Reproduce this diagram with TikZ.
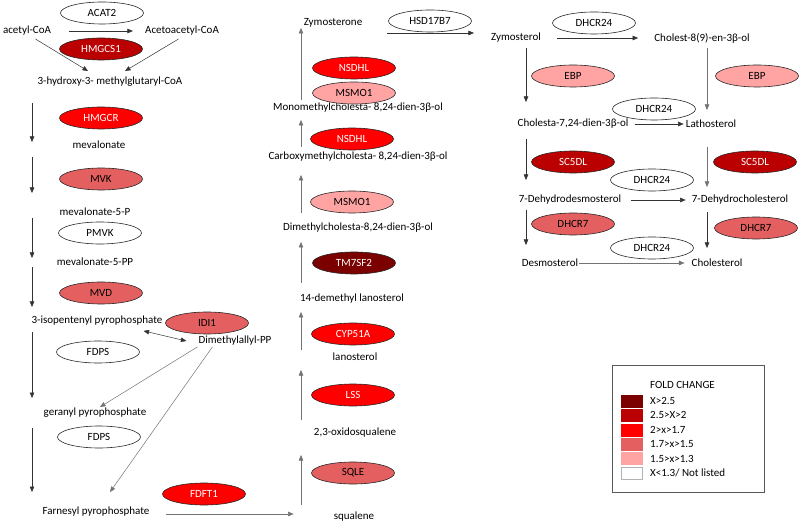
\documentclass[tikz,border=0pt]{standalone}
\usepackage{fontspec}
\setmainfont{Carlito}
\usetikzlibrary{shapes.geometric, arrows.meta}

\definecolor{fcmaroon}{HTML}{7B0000}
\definecolor{fcdark}{HTML}{BA0000}
\definecolor{fcred}{HTML}{FF0000}
\definecolor{fcsalmon}{HTML}{E46060}
\definecolor{fcpink}{HTML}{FFA3A3}

\begin{document}
\begin{tikzpicture}[
    x=1pt, y=-1pt,
    font=\fontsize{11}{13}\selectfont,
    metab/.style={inner sep=1pt},
    enz/.style={ellipse, draw=black!85, line width=0.6pt, minimum width=83pt,
      minimum height=22pt, inner sep=0pt, fill=white},
    enzhi/.style={enz, text=white},
    arr/.style={-{Triangle[length=5.5pt,width=4.5pt]}, draw=black!80, line width=0.5pt},
    arrgray/.style={arr, draw=black!55}
  ]
  \useasboundingbox (0,0) rectangle (800,526);

  % mevalonate part
  \node[metab] (acetyl) at (27,31) {acetyl-CoA};
  \node[metab] (acetoacetyl) at (182,31) {Acetoacetyl-CoA};
  \node[enz] (acat2) at (102,13) {ACAT2};
  \node[enzhi, fill=fcdark] (hmgcs1) at (101,49) {HMGCS1};
  \node[metab] (hmgcoa) at (110,82) {3-hydroxy-3- methylglutaryl-CoA};
  \node[enzhi, fill=fcred] (hmgcr) at (101,118) {HMGCR};
  \node[metab] (mevalonate) at (99,145) {mevalonate};
  \node[enz, fill=fcsalmon] (mvk) at (101,179) {MVK};
  \node[metab] (mev5p) at (95,212) {mevalonate-5-P};
  \node[enz] (pmvk) at (100,233) {PMVK};
  \node[metab] (mev5pp) at (95,262) {mevalonate-5-PP};
  \node[enz, fill=fcsalmon] (mvd) at (101,293) {MVD};
  \node[metab] (ipp) at (97,321) {3-isopentenyl pyrophosphate};
  \node[enz, fill=fcsalmon] (idi1) at (207,323) {IDI1};
  \node[metab] (dimethyl) at (235,341) {Dimethylallyl-PP};
  \node[enz] (fdps1) at (98,352) {FDPS};
  \node[metab] (gpp) at (95,413) {geranyl pyrophosphate};
  \node[enz] (fdps2) at (99,437) {FDPS};
  \node[metab] (fpp) at (96,512) {Farnesyl pyrophosphate};
  \node[enzhi, fill=fcred] (fdft1) at (204,494) {FDFT1};

  % squalene to zymosterone
  \node[metab] (squalene) at (354,517) {squalene};
  \node[enz, fill=fcsalmon] (sqle) at (353,473) {SQLE};
  \node[metab] (oxido) at (355,433) {2,3-oxidosqualene};
  \node[enzhi, fill=fcred] (lss) at (353,395) {LSS};
  \node[metab] (lanosterol) at (355,357) {lanosterol};
  \node[enzhi, fill=fcred] (cyp51a) at (353,334) {CYP51A};
  \node[metab] (demethyl) at (352,299) {14-demethyl lanosterol};
  \node[enzhi, fill=fcmaroon] (tm7sf2) at (354,263) {TM7SF2};
  \node[metab] (dimethylchol) at (358,228) {Dimethylcholesta-8,24-dien-3β-ol};
  \node[enz, fill=fcpink] (msmo1b) at (352,202) {MSMO1};
  \node[metab] (carboxy) at (358,157) {Carboxymethylcholesta- 8,24-dien-3β-ol};
  \node[enzhi, fill=fcred] (nsdhlb) at (352,139) {NSDHL};
  \node[metab] (monomethyl) at (358,108) {Monomethylcholesta- 8,24-dien-3β-ol};
  \node[enz, fill=fcpink] (msmo1a) at (354,93) {MSMO1};
  \node[enzhi, fill=fcred] (nsdhla) at (354,68) {NSDHL};
  \node[metab] (zymosterone) at (333,23) {Zymosterone};
  \node[enz] (hsd17b7) at (430,21) {HSD17B7};

  % zymosterol to cholesterol
  \node[metab] (zymosterol) at (516,38) {Zymosterol};
  \node[enz] (dhcr24a) at (594,23) {DHCR24};
  \node[metab] (cholest8) at (702,38) {Cholest-8(9)-en-3β-ol};
  \node[enz, fill=fcpink] (ebpa) at (573,76) {EBP};
  \node[enz, fill=fcpink] (ebpb) at (757,76) {EBP};
  \node[metab] (cholesta) at (573,124) {Cholesta-7,24-dien-3β-ol};
  \node[enz] (dhcr24b) at (654,109) {DHCR24};
  \node[metab] (lathosterol) at (711,124) {Lathosterol};
  \node[enzhi, fill=fcdark] (sc5dla) at (573,162) {SC5DL};
  \node[enzhi, fill=fcdark] (sc5dlb) at (755,162) {SC5DL};
  \node[enz] (dhcr24c) at (652,180) {DHCR24};
  \node[metab] (dehydrodesmo) at (570,200) {7-Dehydrodesmosterol};
  \node[metab] (dehydrochol) at (740,200) {7-Dehydrocholesterol};
  \node[enz, fill=fcsalmon] (dhcr7a) at (573,224) {DHCR7};
  \node[enz, fill=fcsalmon] (dhcr7b) at (756,228) {DHCR7};
  \node[enz] (dhcr24d) at (652,248) {DHCR24};
  \node[metab] (desmosterol) at (550,263) {Desmosterol};
  \node[metab] (cholesterol) at (717,263) {Cholesterol};

  % columns of the vertical arrows
  \coordinate (colA) at (32,0);
  \coordinate (colB) at (301,0);
  \coordinate (colC) at (526,0);
  \coordinate (colD) at (707,0);

  % arrows, left part
  \draw[arr, shorten <=17pt, shorten >=11pt] (acetyl.east) -- (acetoacetyl.west);
  \draw[arr, shorten <=4pt] ([xshift=5pt]acetyl.south) -- ([xshift=-22pt,yshift=5pt]hmgcoa.north);
  \draw[arr, shorten <=4pt] (acetoacetyl.south) -- ([xshift=15pt,yshift=5pt]hmgcoa.north);
  \draw[arr, shorten <=21pt, shorten >=3pt] (hmgcoa -| colA) -- (mevalonate -| colA);
  \draw[arr, shorten <=12pt, shorten >=19pt] (mevalonate -| colA) -- (mev5p -| colA);
  \draw[arr, shorten <=6pt, shorten >=4pt] (mev5p -| colA) -- (mev5pp -| colA);
  \draw[arr, shorten <=5pt, shorten >=14pt] (mev5pp -| colA) -- (ipp -| colA);
  \draw[arr, shorten <=11pt, shorten >=15pt] (ipp -| colA) -- (gpp -| colA);
  \draw[arr, shorten <=15pt, shorten >=20pt] (gpp -| colA) -- (fpp -| colA);
  \draw[arr, {Triangle[length=5.5pt,width=4.5pt]}-{Triangle[length=5.5pt,width=4.5pt]}]
    ([xshift=-20pt,yshift=-4pt]ipp.south east) -- ([xshift=-11pt]dimethyl.west);
  \draw[arrgray] (dimethyl.south west) -- ([xshift=5pt]gpp.north);
  \draw[arrgray] ([xshift=15pt]dimethyl.south west) -- ([xshift=14pt,yshift=14pt]fpp.north);
  \draw[arrgray, shorten <=15pt, shorten >=39pt] ([yshift=-2pt]fpp.east) -- ([yshift=3pt]squalene.west);

  % arrows, middle part
  \draw[arrgray, shorten <=12pt, shorten >=22pt] (squalene -| colB) -- (oxido -| colB);
  \draw[arrgray, shorten <=13pt, shorten >=13pt] (oxido -| colB) -- (lanosterol -| colB);
  \draw[arrgray, shorten <=7pt, shorten >=13pt] (lanosterol -| colB) -- (demethyl -| colB);
  \draw[arrgray, shorten <=16pt, shorten >=14pt] (demethyl -| colB) -- (dimethylchol -| colB);
  \draw[arrgray, shorten <=15pt, shorten >=18pt] (dimethylchol -| colB) -- (carboxy -| colB);
  \draw[arrgray, shorten <=10pt, shorten >=12pt] (carboxy -| colB) -- (monomethyl -| colB);
  \draw[arrgray, shorten <=8pt, shorten >=5pt] (monomethyl -| colB) -- (zymosterone -| colB);
  \draw[arr, shorten <=24pt, shorten >=16pt] ([yshift=-10pt]zymosterone.east) -- ([yshift=5pt]zymosterol.west);

  % arrows, right part
  \draw[arr, shorten <=15pt, shorten >=15pt] (zymosterol.east) -- (cholest8.west);
  \draw[arr, shorten <=10pt, shorten >=22pt] (zymosterol -| colC) -- (cholesta -| colC);
  \draw[arr, shorten <=15pt, shorten >=20pt] (cholesta -| colC) -- (dehydrodesmo -| colC);
  \draw[arr, shorten <=10pt, shorten >=18pt] (dehydrodesmo -| colC) -- (desmosterol -| colC);
  \draw[arrgray, shorten <=10pt, shorten >=14pt] (cholest8 -| colD) -- (lathosterol -| colD);
  \draw[arrgray, shorten <=23pt, shorten >=13pt] (lathosterol -| colD) -- (dehydrochol -| colD);
  \draw[arr, shorten <=12pt, shorten >=15pt] (dehydrochol -| colD) -- (cholesterol -| colD);
  \draw[arr, shorten <=5pt, shorten >=1pt] (cholesta.east) -- (lathosterol.west);
  \draw[arr, shorten <=9pt, shorten >=5pt] (dehydrodesmo.east) -- (dehydrochol.west);
  \draw[arrgray, shorten >=6pt] (desmosterol.east) -- (cholesterol.west);

  % legend
  \node[draw=black!65, line width=0.8pt, minimum width=152pt, minimum height=127pt,
    inner sep=0pt] (legend) at (688,428.5) {};
  \node[anchor=west, inner sep=0pt] (legtitle) at (650,385) {FOLD CHANGE};
  \foreach \i/\c/\b/\t in {1/fcmaroon/fcmaroon/X>2.5, 2/fcdark/fcdark/2.5>X>2,
      3/fcred/fcred/2>x>1.7, 4/fcsalmon/fcsalmon/1.7>x>1.5, 5/fcpink/fcpink/1.5>x>1.3,
      6/white/black!30/{X<1.3/ Not listed}} {
    \pgfmathsetmacro{\yy}{401+(\i-1)*14.4}
    \node[draw=\b, fill=\c, minimum width=21pt, minimum height=12pt, inner sep=0pt]
      (sw\i) at (631.5,\yy) {};
    \node[anchor=west, inner sep=0pt] (lab\i) at (650,\yy) {\t};
  }
\end{tikzpicture}
\end{document}
